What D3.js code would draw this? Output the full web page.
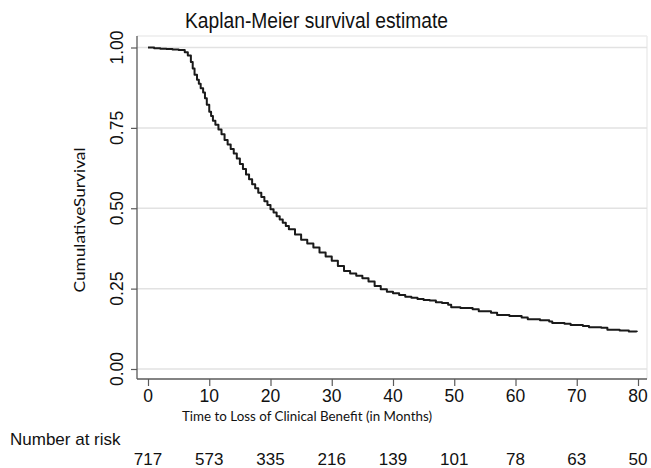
<!DOCTYPE html>
<html>
<head>
<meta charset="utf-8">
<script src="https://cdn.jsdelivr.net/npm/d3@7"></script>
<style>
  html, body { margin: 0; padding: 0; background: #fff; }
  svg { display: block; }
</style>
</head>
<body>
<svg id="chart" width="651" height="468"></svg>
<script>
// ---- data ----
const title = "Kaplan-Meier survival estimate";
const xTitle = "Time to Loss of Clinical Benefit (in Months)";
const yTitle = "CumulativeSurvival";
const riskLabel = "Number at risk";

const xTicks = [0, 10, 20, 30, 40, 50, 60, 70, 80];
const yTicks = [0, 0.25, 0.5, 0.75, 1.0];
const atRisk = [717, 573, 335, 216, 139, 101, 78, 63, 50];

const months = [0, 1, 2, 3, 4, 5, 6, 6.5, 7, 7.3, 7.6, 8, 8.3, 8.6, 9, 9.3, 9.6, 10, 10.3, 10.6, 11, 11.5, 12, 12.5,
  13, 13.5, 14, 14.5, 15, 15.5, 16, 16.5, 17, 17.5, 18, 18.5, 19, 19.5, 20, 20.5, 21, 21.5, 22, 22.5, 23, 24, 25,
  26, 27, 28, 29, 30, 31, 32, 33, 34, 35, 36, 37, 38, 39, 40, 41, 42, 43, 44, 45,
  46, 47, 48, 49, 49.5, 51, 53, 54, 56, 57, 59, 61, 62, 64, 65.5, 66, 68, 69, 71, 72,
  74, 75, 77, 78.5, 79.8];
const survival = [1.000, 0.998, 0.996, 0.995, 0.994, 0.992, 0.985, 0.975, 0.955, 0.935, 0.915, 0.900, 0.887, 0.873, 0.860, 0.842, 0.822, 0.800, 0.787, 0.772, 0.760, 0.745, 0.730, 0.712,
  0.698, 0.684, 0.670, 0.655, 0.638, 0.622, 0.605, 0.590, 0.575, 0.562, 0.548, 0.535, 0.522, 0.510, 0.497, 0.487, 0.475, 0.465, 0.455, 0.445, 0.435, 0.418, 0.402,
  0.390, 0.378, 0.362, 0.350, 0.337, 0.320, 0.305, 0.297, 0.290, 0.282, 0.272, 0.258, 0.248, 0.240, 0.236, 0.230, 0.225, 0.222, 0.218, 0.215,
  0.213, 0.208, 0.205, 0.200, 0.192, 0.190, 0.186, 0.180, 0.175, 0.168, 0.165, 0.160, 0.155, 0.152, 0.148, 0.143, 0.141, 0.137, 0.134, 0.130,
  0.128, 0.122, 0.120, 0.117, 0.115];

// ---- layout ----
const svg = d3.select("#chart");
const plot = { left: 137, right: 647, top: 36, bottom: 379 };

const x = d3.scaleLinear().domain([0, 80]).range([148, 638]);
const y = d3.scaleLinear().domain([0, 1]).range([369, 47.5]);

const axisColor = "#5a5a5a";
const gridColor = "#e2e2e2";

// plot frame (light)
svg.append("line").attr("x1", plot.left).attr("x2", plot.right)
  .attr("y1", plot.top).attr("y2", plot.top)
  .attr("stroke", "#ececec").attr("stroke-width", 1.5);
svg.append("line").attr("x1", plot.right).attr("x2", plot.right)
  .attr("y1", plot.top).attr("y2", plot.bottom)
  .attr("stroke", "#ececec").attr("stroke-width", 1.5);

// gridlines
svg.append("g").selectAll("line").data(yTicks).join("line")
  .attr("x1", plot.left).attr("x2", plot.right)
  .attr("y1", d => y(d)).attr("y2", d => y(d))
  .attr("stroke", gridColor).attr("stroke-width", 1.5);

// y axis
const yAxis = d3.axisLeft(y).tickValues(yTicks).tickFormat(d3.format(".2f")).tickSize(6).tickPadding(0);
const gy = svg.append("g").attr("transform", `translate(${plot.left},0)`).call(yAxis);
gy.select(".domain").remove();
gy.selectAll(".tick line").attr("stroke", axisColor).attr("stroke-width", 1.2);
gy.selectAll(".tick text").remove();
svg.append("line").attr("x1", plot.left).attr("x2", plot.left)
  .attr("y1", plot.top).attr("y2", plot.bottom)
  .attr("stroke", axisColor).attr("stroke-width", 1.3);
svg.append("g").selectAll("text").data(yTicks).join("text")
  .attr("transform", d => `translate(123,${y(d)}) rotate(-90)`)
  .attr("text-anchor", "middle")
  .attr("font-family", "Liberation Sans, Arial, sans-serif")
  .attr("font-size", 17.5)
  .attr("fill", "#111")
  .text(d => d3.format(".2f")(d));

// x axis
const xAxis = d3.axisBottom(x).tickValues(xTicks).tickSize(7).tickPadding(4);
const gx = svg.append("g").attr("transform", `translate(0,${plot.bottom})`).call(xAxis);
gx.select(".domain").remove();
gx.selectAll(".tick line").attr("stroke", axisColor).attr("stroke-width", 1.2);
gx.selectAll(".tick text").remove();
svg.append("line").attr("x1", plot.left).attr("x2", plot.right)
  .attr("y1", plot.bottom).attr("y2", plot.bottom)
  .attr("stroke", axisColor).attr("stroke-width", 1.3);
svg.append("g").selectAll("text").data(xTicks).join("text")
  .attr("x", d => x(d)).attr("y", 402)
  .attr("text-anchor", "middle")
  .attr("font-family", "Liberation Sans, Arial, sans-serif")
  .attr("font-size", 17.5)
  .attr("fill", "#111")
  .text(d => d);

// KM curve
const pts = months.map((m, i) => [m, survival[i]]);
const line = d3.line().x(d => x(d[0])).y(d => y(d[1])).curve(d3.curveStepAfter);
svg.append("path").datum(pts)
  .attr("d", line)
  .attr("fill", "none")
  .attr("stroke", "#1a1a1a")
  .attr("stroke-width", 2)
  .attr("stroke-linejoin", "round");

// titles
svg.append("text").attr("x", 316.5).attr("y", 28)
  .attr("text-anchor", "middle")
  .attr("font-family", "Liberation Sans, Arial, sans-serif")
  .attr("font-size", 22)
  .attr("textLength", 263)
  .attr("lengthAdjust", "spacingAndGlyphs")
  .attr("fill", "#111")
  .text(title);

svg.append("text").attr("x", 307).attr("y", 421)
  .attr("text-anchor", "middle")
  .attr("font-family", "Lato, sans-serif")
  .attr("font-size", 14)
  .attr("textLength", 250)
  .attr("lengthAdjust", "spacingAndGlyphs")
  .attr("fill", "#111")
  .text(xTitle);

svg.append("text")
  .attr("transform", "translate(85,220) rotate(-90)")
  .attr("text-anchor", "middle")
  .attr("font-family", "Lato, sans-serif")
  .attr("font-size", 15)
  .attr("textLength", 145)
  .attr("lengthAdjust", "spacingAndGlyphs")
  .attr("fill", "#111")
  .text(yTitle);

// number at risk
svg.append("text").attr("x", 10).attr("y", 445)
  .attr("font-family", "Liberation Sans, Arial, sans-serif")
  .attr("font-size", 17)
  .attr("fill", "#111")
  .text(riskLabel);
svg.append("g").selectAll("text").data(atRisk).join("text")
  .attr("x", (d, i) => x(xTicks[i])).attr("y", 465)
  .attr("text-anchor", "middle")
  .attr("font-family", "Liberation Sans, Arial, sans-serif")
  .attr("font-size", 17)
  .attr("fill", "#111")
  .text(d => d);
</script>
</body>
</html>
